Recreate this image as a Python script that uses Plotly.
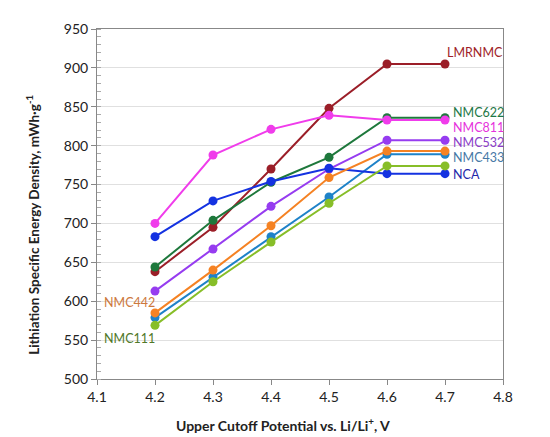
import plotly.graph_objects as go

# upper cutoff potential (V) and lithiation specific energy (mWh/g)
voltage = [4.2, 4.3, 4.4, 4.5, 4.6, 4.7]

lmrnmc = [638, 695, 770, 848, 905, 905]
nmc622 = [644, 704, 753, 785, 836, 836]
nmc811 = [700, 788, 821, 839, 833, 833]
nmc532 = [613, 667, 722, 770, 807, 807]
nmc433 = [579, 631, 683, 734, 789, 789]
nca = [683, 729, 754, 771, 764, 764]
nmc442 = [585, 640, 697, 759, 793, 793]
nmc111 = [569, 625, 676, 726, 774, 774]

# name, values, line colour, label colour, label shift (px)
series = [
    ('LMRNMC', lmrnmc, 'rgb(155,30,40)', 'rgb(160,30,40)', 12),
    ('NMC622', nmc622, 'rgb(30,120,60)', 'rgb(30,120,70)', 5),
    ('NMC811', nmc811, 'rgb(240,60,235)', 'rgb(230,50,220)', -7),
    ('NMC532', nmc532, 'rgb(150,60,240)', 'rgb(140,60,200)', -2),
    ('NMC433', nmc433, 'rgb(30,130,200)', 'rgb(70,120,165)', -3),
    ('NCA', nca, 'rgb(20,50,225)', 'rgb(30,40,170)', -1),
    ('NMC442', nmc442, 'rgb(245,130,35)', 'rgb(205,120,60)', 10),
    ('NMC111', nmc111, 'rgb(135,190,40)', 'rgb(80,120,40)', -13),
]

fig = go.Figure()
for name, vals, col, _, _ in series:
    fig.add_trace(go.Scatter(x=voltage, y=vals, name=name, mode='lines+markers',
                             line=dict(color=col, width=2),
                             marker=dict(color=col, size=9)))

# series labels: right of the last point, except the two on the left
for name, vals, _, tcol, dy in series:
    if name in ('NMC442', 'NMC111'):
        fig.add_annotation(x=voltage[0], y=vals[0], text=name, showarrow=False,
                           xanchor='right', xshift=2, yshift=dy,
                           font=dict(color=tcol, size=12.5))
    else:
        fig.add_annotation(x=voltage[-1], y=vals[-1], text=name, showarrow=False,
                           xanchor='left', xshift=0 if name == 'LMRNMC' else 6, yshift=dy,
                           font=dict(color=tcol, size=12.5))

# axis titles (placed by hand, they sit off-centre in the original)
fig.add_annotation(x=0.458, y=-0.13, xref='paper', yref='paper', yanchor='middle',
                   text='<b>Upper Cutoff Potential vs. Li/Li<sup>+</sup>, V</b>',
                   showarrow=False, font=dict(size=14))
fig.add_annotation(x=-0.158, y=0.44, xref='paper', yref='paper',
                   xanchor='center', yanchor='middle', textangle=-90,
                   text='<b>Lithiation Specific Energy Density, mWh·g<sup>-1</sup></b>',
                   showarrow=False, font=dict(size=13.5))

fig.update_layout(
    width=550, height=437,
    margin=dict(l=89, r=55, t=13, b=66),
    plot_bgcolor='white', paper_bgcolor='white',
    showlegend=False,
    font=dict(family='Lato', size=14, color='#222'),
    xaxis=dict(range=[4.1, 4.8], dtick=0.1, tickformat='.1f',
               showgrid=False, zeroline=False,
               showline=True, linecolor='#888', linewidth=1, mirror=True,
               ticks='outside', ticklen=5, tickcolor='#888'),
    yaxis=dict(range=[500, 950], dtick=50,
               showgrid=True, gridcolor='#e0e0e0', gridwidth=1, zeroline=False,
               showline=True, linecolor='#888', linewidth=1, mirror=True,
               ticks='outside', ticklen=5, tickcolor='#888',
               minor=dict(dtick=10, ticks='inside', ticklen=4, tickcolor='#aaa', showgrid=False)),
)

fig.write_html("out.html")
